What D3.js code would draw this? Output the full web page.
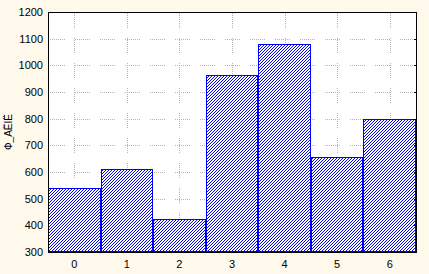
<!DOCTYPE html>
<html>
<head>
<meta charset="utf-8">
<script src="https://cdn.jsdelivr.net/npm/d3@7"></script>
<style>
  html, body { margin: 0; padding: 0; background: #fff9ec; }
  svg { display: block; }
  text { font-family: "Liberation Sans", Arial, sans-serif; font-size: 11px; fill: #000; }
</style>
</head>
<body>
<svg id="chart" width="429" height="274"></svg>
<script>
const categories = ["0", "1", "2", "3", "4", "5", "6"];
const values = [540, 610, 425, 962, 1080, 655, 800];
const yTicks = [300, 400, 500, 600, 700, 800, 900, 1000, 1100, 1200];
const yTitle = "Ф_АЁІЁ";

const svg = d3.select("#chart");
const margin = { top: 12, right: 13, bottom: 22, left: 48 };
const width = 429, height = 274;
const x0 = margin.left, x1 = width - margin.right;
const y0 = height - margin.bottom, y1 = margin.top;

const x = d3.scaleBand().domain(categories).range([x0, x1]).paddingInner(0).paddingOuter(0);
const y = d3.scaleLinear().domain([300, 1200]).range([y0, y1]);

// hatch fill: pixel staircase "/" with 3px period
const defs = svg.append("defs");
const pat = defs.append("pattern")
  .attr("id", "hatch")
  .attr("patternUnits", "userSpaceOnUse")
  .attr("width", 3).attr("height", 3);
pat.append("rect").attr("width", 3).attr("height", 3).attr("fill", "#fff");
pat.selectAll("rect.px")
  .data([[2, 0], [1, 1], [0, 2]])
  .join("rect")
  .attr("class", "px")
  .attr("x", (d) => d[0]).attr("y", (d) => d[1])
  .attr("width", 1).attr("height", 1)
  .attr("fill", "#0000ff")
  .attr("shape-rendering", "crispEdges");

// plot background
svg.append("rect")
  .attr("x", x0).attr("y", y1)
  .attr("width", x1 - x0).attr("height", y0 - y1)
  .attr("fill", "#fff");

// grid
const grid = svg.append("g").attr("stroke", "#b4b4b4").attr("stroke-width", 1);
grid.selectAll("line.h")
  .data(yTicks.filter((t) => t > 300 && t < 1200))
  .join("line")
  .attr("class", "h")
  .attr("x1", x0 + 2).attr("x2", x1 - 2)
  .attr("y1", (d) => Math.round(y(d)) + 0.5)
  .attr("y2", (d) => Math.round(y(d)) + 0.5)
  .attr("stroke-dasharray", "1,1,1,1,1,1,1,1,1,1,1,1,1,1,1,10");
grid.selectAll("line.v")
  .data(categories)
  .join("line")
  .attr("class", "v")
  .attr("x1", (d) => Math.round(x(d) + x.bandwidth() / 2) + 0.5)
  .attr("x2", (d) => Math.round(x(d) + x.bandwidth() / 2) + 0.5)
  .attr("y1", y1 + 1).attr("y2", y0)
  .attr("stroke-dasharray", "1,1,1,1,1,1,1,1,1,1,1,1,1,1,1,10");

// bars
svg.append("g").selectAll("rect")
  .data(values)
  .join("rect")
  .attr("x", (d, i) => Math.round(x(categories[i])) + 0.5)
  .attr("y", (d) => Math.round(y(d)) + 0.5)
  .attr("width", (d, i) => Math.round(x(categories[i]) + x.bandwidth()) - Math.round(x(categories[i])) - 1)
  .attr("height", (d) => Math.round(y0) - Math.round(y(d)) - 1)
  .attr("fill", "url(#hatch)")
  .attr("stroke", "#0000ff")
  .attr("stroke-width", 1);

// frame
svg.append("rect")
  .attr("x", x0 + 0.5).attr("y", y1 + 0.5)
  .attr("width", x1 - x0).attr("height", y0 - y1)
  .attr("fill", "none")
  .attr("stroke", "#000")
  .attr("stroke-width", 1);

// right side inner ticks
svg.append("g").selectAll("line")
  .data(yTicks.filter((t) => t > 300 && t < 1200))
  .join("line")
  .attr("x1", x1 - 2).attr("x2", x1)
  .attr("y1", (d) => Math.round(y(d)) + 0.5)
  .attr("y2", (d) => Math.round(y(d)) + 0.5)
  .attr("stroke", "#000");

// y tick labels
svg.append("g").selectAll("text")
  .data(yTicks)
  .join("text")
  .attr("x", x0 - 5)
  .attr("y", (d) => y(d) + 4)
  .attr("text-anchor", "end")
  .text((d) => d);

// x tick labels
svg.append("g").selectAll("text")
  .data(categories)
  .join("text")
  .attr("x", (d) => x(d) + x.bandwidth() / 2)
  .attr("y", y0 + 16)
  .attr("text-anchor", "middle")
  .text((d) => d);

// y title
svg.append("text")
  .attr("transform", `translate(12,${(y0 + y1) / 2}) rotate(-90)`)
  .attr("text-anchor", "middle")
  .style("font-size", "10px")
  .text(yTitle);
</script>
</body>
</html>
